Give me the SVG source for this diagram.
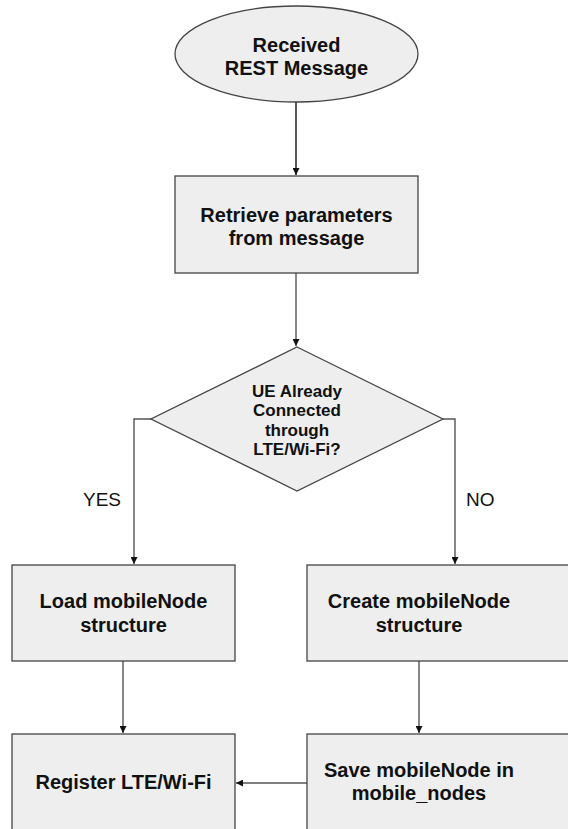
<svg xmlns="http://www.w3.org/2000/svg" width="568" height="829" viewBox="0 0 568 829">
<defs>
<style>
.n{fill:#eeeeee;stroke:#444444;stroke-width:1.3}
.t{font-family:"Liberation Sans",Arial,sans-serif;font-weight:bold;font-size:20px;fill:#111;text-anchor:middle}
.d{font-size:17px}
.l{font-family:"Liberation Sans",Arial,sans-serif;font-size:19px;fill:#111}
.c{fill:none;stroke:#555555;stroke-width:1.4}
</style>
<marker id="ah" viewBox="0 0 10 10" refX="10" refY="5" markerWidth="7" markerHeight="7" markerUnits="userSpaceOnUse" orient="auto">
<path d="M0,0 L10,5 L0,10 z" fill="#111"/>
</marker>
</defs>
<rect width="568" height="829" fill="#ffffff"/>
<g id="connectors">
<path class="c" d="M296,102 V175" marker-end="url(#ah)" style="stroke:#111"/>
<path class="c" d="M296,273 V346" marker-end="url(#ah)"/>
<path class="c" d="M151,419 H134 V564" marker-end="url(#ah)"/>
<path class="c" d="M443,419 H455 V564" marker-end="url(#ah)"/>
<path class="c" d="M123,661 V733" marker-end="url(#ah)"/>
<path class="c" d="M419,661 V733" marker-end="url(#ah)"/>
<path class="c" d="M307,783 H236" marker-end="url(#ah)"/>
<text class="l" x="83" y="506">YES</text>
<text class="l" x="466" y="506">NO</text>
</g>
<g id="start">
<ellipse class="n" cx="296.5" cy="54" rx="121.5" ry="48"/>
<text class="t" x="296.5" y="52">Received</text>
<text class="t" x="296.5" y="75">REST Message</text>
</g>
<g id="retrieve">
<rect class="n" x="175" y="176" width="243" height="97"/>
<text class="t" x="296.5" y="222">Retrieve parameters</text>
<text class="t" x="296.5" y="245">from message</text>
</g>
<g id="decision">
<polygon class="n" points="297,347 443,419 297,491 151,419"/>
<text class="t d" x="297" y="397">UE Already</text>
<text class="t d" x="297" y="416">Connected</text>
<text class="t d" x="297" y="436">through</text>
<text class="t d" x="297" y="455">LTE/Wi-Fi?</text>
</g>
<g id="load">
<rect class="n" x="12" y="565" width="223" height="96"/>
<text class="t" x="123.5" y="608">Load mobileNode</text>
<text class="t" x="123.5" y="632">structure</text>
</g>
<g id="create">
<rect class="n" x="307" y="565" width="270" height="96"/>
<text class="t" x="419" y="608">Create mobileNode</text>
<text class="t" x="419" y="632">structure</text>
</g>
<g id="register">
<rect class="n" x="12" y="734" width="223" height="110"/>
<text class="t" x="123.5" y="789">Register LTE/Wi-Fi</text>
</g>
<g id="save">
<rect class="n" x="307" y="734" width="270" height="110"/>
<text class="t" x="419" y="777">Save mobileNode in</text>
<text class="t" x="419" y="800">mobile_nodes</text>
</g>
</svg>
